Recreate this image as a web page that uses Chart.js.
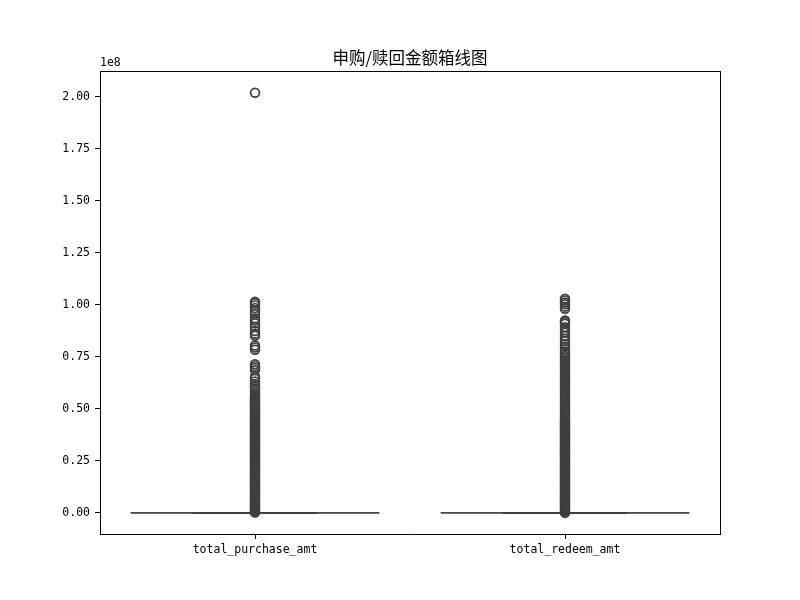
<!DOCTYPE html>
<html>
<head>
<meta charset="utf-8">
<title>申购/赎回金额箱线图</title>
<script src="https://cdn.jsdelivr.net/npm/chart.js@4.4.1/dist/chart.umd.min.js"></script>
<style>
  html, body { margin: 0; padding: 0; background: #fff; }
  #wrap { width: 800px; height: 600px; }
</style>
</head>
<body>
<div id="wrap"><canvas id="boxChart" width="800" height="600"></canvas></div>
<script>
// 数值单位：1e8 元
const UNIT = 1e8;
const categories = ['total_purchase_amt', 'total_redeem_amt'];

// 箱体统计量（相对 1e8 几乎为 0）
const q1 = [0, 0];
const median = [0, 0];
const q3 = [0.0002, 0.0002];
const whiskerLow = [0, 0];
const whiskerHigh = [0.0005, 0.0005];

// 异常值（从图上读取的估计值，底部是密集的实心柱）
const purchaseOutliers = [
  2.02, 1.015, 1.008, 0.998, 0.985, 0.972, 0.958, 0.935, 0.925, 0.912, 0.895,
  0.875, 0.862, 0.852, 0.805, 0.795, 0.785, 0.715, 0.706, 0.697, 0.686, 0.655,
  0.646, 0.632, 0.62, 0.608, 0.598, 0.587, 0.576, 0.566, 0.556, 0.55,
  0.546, 0.541, 0.535, 0.531, 0.526, 0.52, 0.516, 0.511, 0.505, 0.501,
  0.496, 0.49, 0.486, 0.481, 0.475, 0.471, 0.465, 0.461, 0.456, 0.45,
  0.446, 0.44, 0.436, 0.431, 0.425, 0.421, 0.416, 0.41, 0.406, 0.401,
  0.395, 0.391, 0.385, 0.381, 0.376, 0.37, 0.366, 0.361, 0.355, 0.351,
  0.345, 0.341, 0.336, 0.33, 0.326, 0.321, 0.315, 0.311, 0.305, 0.301,
  0.296, 0.29, 0.286, 0.28, 0.276, 0.271, 0.265, 0.261, 0.256, 0.25,
  0.246, 0.241, 0.235, 0.231, 0.225, 0.221, 0.216, 0.21, 0.206, 0.201,
  0.195, 0.191, 0.186, 0.18, 0.176, 0.171, 0.165, 0.161, 0.155, 0.151,
  0.146, 0.14, 0.136, 0.131, 0.125, 0.121, 0.115, 0.111, 0.106, 0.1,
  0.096, 0.091, 0.085, 0.081, 0.075, 0.071, 0.066, 0.06, 0.056, 0.051,
  0.045, 0.041, 0.036, 0.03, 0.026, 0.021, 0.015, 0.011, 0.006, 0.002
];
const redeemOutliers = [
  1.03, 1.022, 1.012, 1.003, 0.992, 0.982, 0.925, 0.918, 0.91,
  0.893, 0.878, 0.866, 0.852, 0.838, 0.826, 0.812, 0.8, 0.787, 0.775,
  0.765, 0.755, 0.746, 0.737, 0.728, 0.719, 0.71, 0.701, 0.692, 0.683,
  0.674, 0.666, 0.657, 0.648, 0.64, 0.631, 0.622, 0.614, 0.605, 0.597,
  0.588, 0.58, 0.571, 0.563, 0.554, 0.546, 0.538, 0.529, 0.521, 0.513,
  0.505, 0.497, 0.489, 0.481, 0.473, 0.466, 0.458,
  0.451, 0.446, 0.44, 0.436, 0.43, 0.426, 0.421, 0.415, 0.411, 0.405,
  0.401, 0.396, 0.39, 0.386, 0.38, 0.376, 0.371, 0.365, 0.361, 0.355,
  0.351, 0.346, 0.34, 0.336, 0.33, 0.326, 0.321, 0.315, 0.311, 0.305,
  0.301, 0.296, 0.29, 0.286, 0.28, 0.276, 0.271, 0.265, 0.261, 0.255,
  0.251, 0.246, 0.24, 0.236, 0.23, 0.226, 0.221, 0.215, 0.211, 0.205,
  0.201, 0.196, 0.19, 0.186, 0.18, 0.176, 0.171, 0.165, 0.161, 0.155,
  0.151, 0.146, 0.14, 0.136, 0.13, 0.126, 0.121, 0.115, 0.111, 0.105,
  0.101, 0.096, 0.09, 0.086, 0.08, 0.076, 0.071, 0.065, 0.061, 0.055,
  0.051, 0.046, 0.04, 0.036, 0.03, 0.026, 0.021, 0.015, 0.011, 0.005, 0.001
];
const outliers = [purchaseOutliers, redeemOutliers];

const yTickValues = [0, 0.25, 0.5, 0.75, 1, 1.25, 1.5, 1.75, 2];
const yMin = -0.101, yMax = 2.121;

const LINE = '#3f3f3f';
const TICK_FONT = { family: '"DejaVu Sans Mono", monospace', size: 11.5 };

function segment(points, width) {
  return {
    data: points,
    showLine: true,
    borderColor: LINE,
    borderWidth: width,
    pointRadius: 0,
    pointHoverRadius: 0,
    fill: false
  };
}

const datasets = [];
categories.forEach((name, i) => {
  const a = q1[i] * UNIT, b = q3[i] * UNIT, m = median[i] * UNIT;
  const lo = whiskerLow[i] * UNIT, hi = whiskerHigh[i] * UNIT;
  // 箱体
  datasets.push(segment([
    { x: i - 0.4, y: a }, { x: i + 0.4, y: a }, { x: i + 0.4, y: b },
    { x: i - 0.4, y: b }, { x: i - 0.4, y: a }
  ], 1.25));
  // 中位数
  datasets.push(segment([{ x: i - 0.4, y: m }, { x: i + 0.4, y: m }], 1.25));
  // 须
  datasets.push(segment([{ x: i, y: a }, { x: i, y: lo }], 1.25));
  datasets.push(segment([{ x: i, y: b }, { x: i, y: hi }], 1.25));
  // 须端横线
  datasets.push(segment([{ x: i - 0.2, y: lo }, { x: i + 0.2, y: lo }], 1.5));
  datasets.push(segment([{ x: i - 0.2, y: hi }, { x: i + 0.2, y: hi }], 1.5));
});
// 异常点放在最后绘制
categories.forEach((name, i) => {
  datasets.push({
    label: name,
    data: outliers[i].map(v => ({ x: i, y: v * UNIT })),
    pointStyle: 'circle',
    pointRadius: 4.4,
    pointHoverRadius: 4.4,
    pointBorderWidth: 1.7,
    pointBorderColor: LINE,
    pointBackgroundColor: 'rgba(0,0,0,0)'
  });
});

// 左上角的 1e8 偏移文字
const offsetText = {
  id: 'offsetText',
  afterDraw(chart) {
    const { ctx, chartArea } = chart;
    ctx.save();
    ctx.font = `${TICK_FONT.size}px ${TICK_FONT.family}`;
    ctx.fillStyle = '#000';
    ctx.textAlign = 'left';
    ctx.textBaseline = 'bottom';
    ctx.fillText('1e8', chartArea.left, chartArea.top - 3);
    ctx.restore();
  }
};

new Chart(document.getElementById('boxChart'), {
  type: 'scatter',
  data: { datasets },
  plugins: [offsetText],
  options: {
    responsive: false,
    devicePixelRatio: 1,
    animation: false,
    events: [],
    layout: { padding: { left: 20, right: 0, top: 0, bottom: 0 } },
    plugins: {
      legend: { display: false },
      tooltip: { enabled: false },
      title: {
        display: true,
        text: '申购/赎回金额箱线图',
        color: '#000',
        font: { family: '"Noto Sans CJK SC"', size: 16.5, weight: 'normal' },
        padding: { top: 48, bottom: 4 }
      }
    },
    scales: {
      x: {
        type: 'linear',
        min: -0.5,
        max: 1.5,
        afterBuildTicks: s => { s.ticks = categories.map((c, i) => ({ value: i })); },
        afterFit: s => { s.height = 66; },
        ticks: {
          callback: v => categories[v],
          color: '#000',
          font: TICK_FONT,
          padding: 4,
          maxRotation: 0,
          autoSkip: false
        },
        grid: { drawOnChartArea: false, tickLength: 5, color: '#000', lineWidth: 1 },
        border: { color: '#000', width: 1 }
      },
      y: {
        type: 'linear',
        min: yMin * UNIT,
        max: yMax * UNIT,
        afterBuildTicks: s => { s.ticks = yTickValues.map(v => ({ value: v * UNIT })); },
        afterFit: s => { s.width = 80; },
        ticks: {
          callback: v => (v / UNIT).toFixed(2),
          color: '#000',
          font: TICK_FONT,
          padding: 5
        },
        grid: { drawOnChartArea: false, tickLength: 5, color: '#000', lineWidth: 1 },
        border: { color: '#000', width: 1 }
      },
      xTop: {
        type: 'linear',
        position: 'top',
        afterFit: s => { s.height = 0; },
        ticks: { display: false },
        grid: { display: false },
        border: { color: '#000', width: 1 }
      },
      yRight: {
        type: 'linear',
        position: 'right',
        afterFit: s => { s.width = 80; },
        ticks: { display: false },
        grid: { display: false },
        border: { color: '#000', width: 1 }
      }
    }
  }
});
</script>
</body>
</html>
